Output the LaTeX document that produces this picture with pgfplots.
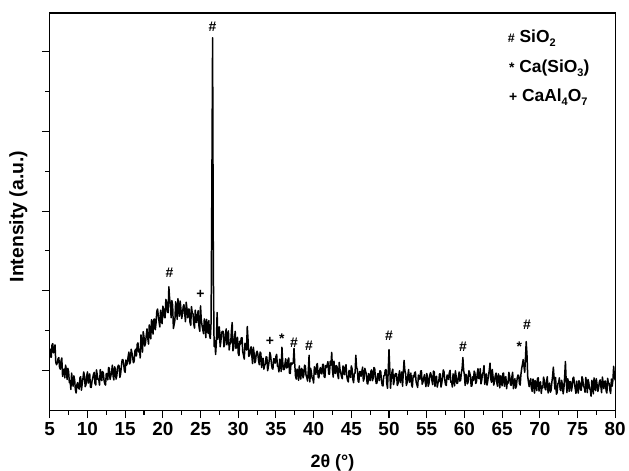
\documentclass[border=0pt]{standalone}
\usepackage{pgfplots}
\pgfplotsset{compat=1.18}
\usepackage{fontspec}
\setmainfont{Liberation Sans}
\begin{document}
\begin{tikzpicture}
\begin{axis}[
  scale only axis, width=568pt, height=399pt,
  xmin=5, xmax=80, ymin=0, ymax=9.975,
  xtick={5,10,...,80}, ytick={1,3,5,7,9}, yticklabels={},
  minor x tick num=1, minor y tick num=1,
  xtick pos=bottom, ytick pos=left,
  tick align=outside,
  major tick length=8pt, minor tick length=4.5pt,
  every tick/.style={black, line width=1.1pt},
  axis line style={black, line width=1.2pt},
  /pgf/number format/assume math mode=true,
  ticklabel style={font=\fontsize{19}{21}\selectfont\bfseries},
  xticklabel style={yshift=-1pt},
  xlabel={2θ (°)}, ylabel={Intensity (a.u.)},
  label style={font=\fontsize{18}{20}\selectfont\bfseries},
  xlabel style={at={(axis description cs:0.5,-0.11)}, anchor=north, inner sep=0pt},
  ylabel style={font=\fontsize{19.5}{21}\selectfont\bfseries, at={(axis description cs:-0.039,0.4875)}, anchor=south, inner sep=0pt},
  clip=false,
]
\path[draw=none] (rel axis cs:-0.088,-0.148) rectangle (rel axis cs:1.0194,1.0326);
\addplot[black, line width=1.5pt, mark=none, line join=round] coordinates {
(5.0,1.55) (5.1,1.34) (5.2,1.33) (5.3,1.64) (5.4,1.67) (5.5,1.44) (5.6,1.53) (5.7,1.64) (5.8,1.20) (5.9,1.14)
(6.0,1.19) (6.1,1.29) (6.2,1.32) (6.3,1.07) (6.4,1.03) (6.5,1.24) (6.6,1.31) (6.7,0.85) (6.8,1.00) (6.9,1.03)
(7.0,0.81) (7.1,1.13) (7.2,1.02) (7.3,0.77) (7.4,1.05) (7.5,0.97) (7.6,0.69) (7.7,0.74) (7.8,0.52) (7.9,0.93)
(8.0,0.74) (8.1,0.60) (8.2,0.86) (8.3,0.76) (8.4,0.51) (8.5,0.43) (8.6,0.64) (8.7,0.69) (8.8,0.57) (8.9,0.53)
(9.0,0.81) (9.1,0.84) (9.2,0.50) (9.3,0.65) (9.4,0.79) (9.5,0.96) (9.6,0.87) (9.7,0.59) (9.8,0.63) (9.9,0.85)
(10.0,0.96) (10.1,0.68) (10.2,0.83) (10.3,0.91) (10.4,0.58) (10.5,0.57) (10.6,0.72) (10.7,0.81) (10.8,0.90) (10.9,0.95)
(11.0,0.67) (11.1,0.63) (11.2,1.01) (11.3,0.89) (11.4,0.77) (11.5,0.78) (11.6,0.63) (11.7,1.02) (11.8,0.89) (11.9,0.74)
(12.0,0.97) (12.1,0.94) (12.2,0.75) (12.3,0.66) (12.4,0.63) (12.5,0.92) (12.6,0.91) (12.7,0.76) (12.8,1.07) (12.9,1.05)
(13.0,0.77) (13.1,0.86) (13.2,0.94) (13.3,1.13) (13.4,0.86) (13.5,0.76) (13.6,1.09) (13.7,1.03) (13.8,0.78) (13.9,0.87)
(14.0,1.07) (14.1,1.13) (14.2,1.11) (14.3,0.82) (14.4,0.91) (14.5,1.10) (14.6,1.26) (14.7,1.27) (14.8,1.17) (14.9,0.99)
(15.0,0.95) (15.1,1.26) (15.2,1.13) (15.3,1.19) (15.4,1.35) (15.5,1.46) (15.6,1.16) (15.7,1.21) (15.8,1.53) (15.9,1.44)
(16.0,1.32) (16.1,1.19) (16.2,1.23) (16.3,1.49) (16.4,1.53) (16.5,1.36) (16.6,1.65) (16.7,1.69) (16.8,1.46) (16.9,1.53)
(17.0,1.31) (17.1,1.89) (17.2,1.71) (17.3,1.46) (17.4,1.97) (17.5,1.84) (17.6,1.61) (17.7,1.68) (17.8,1.87) (17.9,2.04)
(18.0,1.81) (18.1,1.66) (18.2,2.14) (18.3,2.03) (18.4,1.79) (18.5,2.27) (18.6,2.20) (18.7,1.91) (18.8,2.27) (18.9,2.29)
(19.0,2.02) (19.1,2.19) (19.2,2.48) (19.3,2.54) (19.4,2.37) (19.5,2.22) (19.6,2.09) (19.7,2.51) (19.8,2.32) (19.9,2.17)
(20.0,2.61) (20.1,2.54) (20.2,2.33) (20.3,2.32) (20.4,2.78) (20.5,2.71) (20.6,2.47) (20.7,2.45) (20.8,3.10) (20.9,2.80)
(21.0,2.65) (21.1,2.32) (21.2,2.75) (21.3,2.64) (21.4,2.05) (21.5,2.15) (21.6,2.26) (21.7,2.72) (21.8,2.60) (21.9,2.28)
(22.0,2.80) (22.1,2.58) (22.2,2.36) (22.3,2.74) (22.4,2.54) (22.5,2.30) (22.6,2.40) (22.7,2.60) (22.8,2.65) (22.9,2.43)
(23.0,2.22) (23.1,2.71) (23.2,2.55) (23.3,2.32) (23.4,2.54) (23.5,2.54) (23.6,2.21) (23.7,2.13) (23.8,2.60) (23.9,2.44)
(24.0,2.42) (24.1,2.17) (24.2,2.06) (24.3,2.51) (24.4,2.21) (24.5,2.20) (24.6,2.42) (24.7,2.50) (24.8,2.09) (24.9,1.98)
(25.0,2.62) (25.1,2.27) (25.2,2.13) (25.3,2.02) (25.4,1.92) (25.5,2.29) (25.6,2.21) (25.7,1.82) (25.8,2.28) (25.9,2.10)
(26.0,1.93) (26.1,2.25) (26.2,1.87) (26.3,1.80) (26.4,2.20) (26.5,5.50) (26.6,9.35) (26.7,3.50) (26.8,1.60) (26.9,1.75)
(27.0,1.40) (27.1,1.70) (27.2,2.45) (27.3,1.78) (27.4,1.99) (27.5,2.09) (27.6,1.59) (27.7,1.73) (27.8,1.95) (27.9,1.98)
(28.0,1.98) (28.1,1.59) (28.2,1.65) (28.3,1.90) (28.4,2.04) (28.5,1.64) (28.6,1.86) (28.7,1.99) (28.8,1.51) (28.9,1.69)
(29.0,1.67) (29.1,2.00) (29.2,2.20) (29.3,1.49) (29.4,1.57) (29.5,1.79) (29.6,1.98) (29.7,1.55) (29.8,1.63) (29.9,1.83)
(30.0,1.43) (30.1,1.37) (30.2,1.73) (30.3,1.66) (30.4,1.81) (30.5,1.82) (30.6,1.47) (30.7,1.38) (30.8,1.28) (30.9,1.68)
(31.0,1.60) (31.1,1.51) (31.2,2.10) (31.3,1.78) (31.4,1.35) (31.5,1.38) (31.6,1.52) (31.7,1.59) (31.8,1.37) (31.9,1.17)
(32.0,1.58) (32.1,1.44) (32.2,1.19) (32.3,1.23) (32.4,1.43) (32.5,1.48) (32.6,1.41) (32.7,1.24) (32.8,1.14) (32.9,1.46)
(33.0,1.43) (33.1,1.07) (33.2,1.29) (33.3,1.30) (33.4,1.03) (33.5,1.12) (33.6,1.16) (33.7,1.34) (33.8,1.33) (33.9,0.99)
(34.0,1.09) (34.1,1.23) (34.2,1.45) (34.3,1.37) (34.4,1.17) (34.5,1.05) (34.6,1.03) (34.7,1.29) (34.8,1.28) (34.9,1.18)
(35.0,1.35) (35.1,1.40) (35.2,1.10) (35.3,1.10) (35.4,0.96) (35.5,1.28) (35.6,1.21) (35.7,0.97) (35.8,1.58) (35.9,1.21)
(36.0,1.02) (36.1,1.02) (36.2,1.16) (36.3,1.29) (36.4,1.06) (36.5,1.07) (36.6,1.26) (36.7,1.31) (36.8,0.93) (36.9,0.92)
(37.0,1.19) (37.1,1.15) (37.2,1.17) (37.3,1.20) (37.4,1.55) (37.5,1.15) (37.6,0.85) (37.7,0.78) (37.8,1.03) (37.9,0.99)
(38.0,0.75) (38.1,1.11) (38.2,0.88) (38.3,0.78) (38.4,1.05) (38.5,1.01) (38.6,0.81) (38.7,0.89) (38.8,1.13) (38.9,1.11)
(39.0,0.87) (39.1,0.82) (39.2,0.73) (39.3,1.01) (39.4,1.38) (39.5,0.71) (39.6,1.05) (39.7,0.96) (39.8,0.81) (39.9,0.79)
(40.0,0.68) (40.1,1.09) (40.2,0.96) (40.3,0.90) (40.4,1.13) (40.5,1.17) (40.6,0.83) (40.7,0.81) (40.8,1.00) (40.9,1.07)
(41.0,0.93) (41.1,0.91) (41.2,1.15) (41.3,1.15) (41.4,0.84) (41.5,0.82) (41.6,1.12) (41.7,1.07) (41.8,1.14) (41.9,1.22)
(42.0,0.91) (42.1,0.90) (42.2,1.22) (42.3,1.13) (42.4,1.45) (42.5,1.01) (42.6,0.83) (42.7,1.23) (42.8,0.95) (42.9,0.92)
(43.0,1.12) (43.1,1.10) (43.2,0.88) (43.3,0.79) (43.4,1.20) (43.5,1.03) (43.6,0.94) (43.7,0.84) (43.8,0.79) (43.9,1.11)
(44.0,1.03) (44.1,0.89) (44.2,1.09) (44.3,1.14) (44.4,0.85) (44.5,0.75) (44.6,0.71) (44.7,1.00) (44.8,0.97) (44.9,0.82)
(45.0,1.11) (45.1,1.04) (45.2,0.78) (45.3,0.69) (45.4,0.92) (45.5,0.93) (45.6,1.38) (45.7,1.06) (45.8,1.03) (45.9,0.73)
(46.0,0.70) (46.1,0.97) (46.2,0.97) (46.3,0.85) (46.4,0.97) (46.5,1.08) (46.6,0.73) (46.7,0.79) (46.8,1.05) (46.9,0.97)
(47.0,0.91) (47.1,0.67) (47.2,0.66) (47.3,0.92) (47.4,0.80) (47.5,0.74) (47.6,0.98) (47.7,1.01) (47.8,0.74) (47.9,0.80)
(48.0,1.07) (48.1,1.05) (48.2,0.82) (48.3,0.67) (48.4,0.68) (48.5,0.91) (48.6,0.92) (48.7,0.74) (48.8,0.99) (48.9,0.97)
(49.0,0.75) (49.1,0.62) (49.2,0.61) (49.3,0.86) (49.4,0.87) (49.5,1.00) (49.6,1.02) (49.7,0.67) (49.8,0.55) (49.9,1.00)
(50.0,1.52) (50.1,1.05) (50.2,0.55) (50.3,0.80) (50.4,0.96) (50.5,1.03) (50.6,0.64) (50.7,0.73) (50.8,0.90) (50.9,0.92)
(51.0,0.91) (51.1,0.62) (51.2,0.67) (51.3,0.87) (51.4,0.99) (51.5,0.69) (51.6,0.86) (51.7,0.96) (51.8,0.60) (51.9,0.95)
(52.0,1.25) (52.1,1.00) (52.2,0.92) (52.3,0.62) (52.4,0.69) (52.5,0.87) (52.6,1.02) (52.7,0.70) (52.8,0.77) (52.9,0.93)
(53.0,0.63) (53.1,0.58) (53.2,0.87) (53.3,0.82) (53.4,0.94) (53.5,0.96) (53.6,0.70) (53.7,0.64) (53.8,0.57) (53.9,0.88)
(54.0,0.83) (54.1,0.77) (54.2,0.98) (54.3,0.99) (54.4,0.65) (54.5,0.70) (54.6,0.80) (54.7,0.89) (54.8,0.71) (54.9,0.59)
(55.0,0.92) (55.1,0.84) (55.2,0.60) (55.3,0.66) (55.4,0.87) (55.5,0.94) (55.6,0.88) (55.7,0.73) (55.8,0.64) (55.9,0.98)
(56.0,0.96) (56.1,0.60) (56.2,0.83) (56.3,0.85) (56.4,0.58) (56.5,0.68) (56.6,0.72) (56.7,0.91) (56.8,0.91) (56.9,0.58)
(57.0,0.68) (57.1,0.82) (57.2,1.01) (57.3,0.96) (57.4,0.76) (57.5,0.64) (57.6,0.62) (57.7,0.88) (57.8,0.87) (57.9,0.77)
(58.0,0.94) (58.1,1.00) (58.2,0.70) (58.3,0.72) (58.4,0.58) (58.5,0.91) (58.6,0.84) (58.7,0.61) (58.8,0.99) (58.9,0.86)
(59.0,0.67) (59.1,0.68) (59.2,0.82) (59.3,0.96) (59.4,0.73) (59.5,0.75) (59.6,0.94) (59.7,1.05) (59.8,1.32) (59.9,1.00)
(60.0,0.89) (60.1,0.62) (60.2,0.90) (60.3,0.87) (60.4,0.66) (60.5,0.71) (60.6,0.99) (60.7,0.94) (60.8,0.86) (60.9,0.60)
(61.0,0.61) (61.1,0.84) (61.2,0.75) (61.3,0.98) (61.4,0.93) (61.5,0.67) (61.6,0.71) (61.7,0.91) (61.8,1.04) (61.9,0.80)
(62.0,0.79) (62.1,1.04) (62.2,0.66) (62.3,0.75) (62.4,0.91) (62.5,0.95) (62.6,1.12) (62.7,0.65) (62.8,0.75) (62.9,0.91)
(63.0,0.63) (63.1,0.73) (63.2,0.88) (63.3,1.00) (63.4,1.18) (63.5,0.78) (63.6,0.70) (63.7,1.02) (63.8,0.84) (63.9,0.63)
(64.0,0.73) (64.1,0.87) (64.2,0.93) (64.3,0.69) (64.4,0.60) (64.5,0.91) (64.6,0.86) (64.7,0.56) (64.8,0.86) (64.9,0.79)
(65.0,0.61) (65.1,0.92) (65.2,0.93) (65.3,0.60) (65.4,0.80) (65.5,0.84) (65.6,0.54) (65.7,0.72) (65.8,0.68) (65.9,0.95)
(66.0,0.86) (66.1,0.66) (66.2,0.62) (66.3,0.84) (66.4,0.95) (66.5,0.54) (66.6,0.70) (66.7,0.79) (66.8,0.55) (66.9,0.60)
(67.0,0.80) (67.1,0.88) (67.2,0.87) (67.3,0.67) (67.4,0.63) (67.5,0.90) (67.6,1.05) (67.7,1.15) (67.8,1.27) (67.9,1.10)
(68.0,0.95) (68.1,1.30) (68.2,1.72) (68.3,1.40) (68.4,0.85) (68.5,0.70) (68.6,0.59) (68.7,0.73) (68.8,0.79) (68.9,0.55)
(69.0,0.47) (69.1,0.78) (69.2,0.73) (69.3,0.43) (69.4,0.74) (69.5,0.67) (69.6,0.49) (69.7,0.80) (69.8,0.81) (69.9,0.48)
(70.0,0.67) (70.1,0.71) (70.2,0.42) (70.3,0.60) (70.4,0.56) (70.5,0.83) (70.6,0.74) (70.7,0.54) (70.8,0.51) (70.9,0.73)
(71.0,0.84) (71.1,0.43) (71.2,0.59) (71.3,0.68) (71.4,0.45) (71.5,0.50) (71.6,0.70) (71.7,0.85) (71.8,1.08) (71.9,0.80)
(72.0,0.53) (72.1,0.82) (72.2,0.40) (72.3,0.44) (72.4,0.66) (72.5,0.69) (72.6,0.81) (72.7,0.52) (72.8,0.49) (72.9,0.75)
(73.0,0.64) (73.1,0.41) (73.2,0.55) (73.3,0.85) (73.4,1.22) (73.5,0.75) (73.6,0.44) (73.7,0.79) (73.8,0.71) (73.9,0.47)
(74.0,0.72) (74.1,0.71) (74.2,0.48) (74.3,0.60) (74.4,0.80) (74.5,0.83) (74.6,0.67) (74.7,0.54) (74.8,0.42) (74.9,0.73)
(75.0,0.56) (75.1,0.43) (75.2,0.74) (75.3,0.68) (75.4,0.51) (75.5,0.50) (75.6,0.84) (75.7,0.78) (75.8,0.59) (75.9,0.57)
(76.0,0.45) (76.1,0.82) (76.2,0.70) (76.3,0.44) (76.4,0.77) (76.5,0.69) (76.6,0.53) (76.7,0.52) (76.8,0.35) (76.9,0.75)
(77.0,0.66) (77.1,0.41) (77.2,0.81) (77.3,0.65) (77.4,0.49) (77.5,0.79) (77.6,0.64) (77.7,0.47) (77.8,0.55) (77.9,0.71)
(78.0,0.76) (78.1,0.60) (78.2,0.44) (78.3,0.83) (78.4,0.71) (78.5,0.54) (78.6,0.72) (78.7,0.73) (78.8,0.48) (78.9,0.43)
(79.0,0.80) (79.1,0.68) (79.2,0.67) (79.3,0.50) (79.4,0.42) (79.5,0.78) (79.6,0.60) (79.7,0.75) (79.8,1.10) (79.9,0.85)
(80.0,0.75)
};
% peak markers
\begin{scope}[every node/.style={font=\fontsize{14}{15}\selectfont\bfseries, inner sep=0pt}]
\node at (axis cs:20.9,3.45) {\#};
\node at (axis cs:25.0,2.90) {+};
\node at (axis cs:26.6,9.62) {\#};
\node at (axis cs:34.2,1.72) {+};
\node at (axis cs:35.8,1.80) {*};
\node at (axis cs:37.4,1.70) {\#};
\node at (axis cs:39.4,1.62) {\#};
\node at (axis cs:50.0,1.87) {\#};
\node at (axis cs:59.8,1.60) {\#};
\node at (axis cs:67.3,1.60) {*};
\node at (axis cs:68.3,2.15) {\#};
\end{scope}
% legend text
\begin{scope}[every node/.style={font=\fontsize{17.5}{19}\selectfont\bfseries, inner sep=0pt, anchor=base west}]
\node at (axis cs:65.74,9.225) {{\fontsize{12.5}{12}\selectfont\#} SiO\raisebox{-0.45ex}{\fontsize{11}{12}\selectfont 2}};
\node at (axis cs:65.9,8.475) {{\fontsize{14}{12}\selectfont*} Ca(SiO\raisebox{-0.45ex}{\fontsize{11}{12}\selectfont 3})};
\node at (axis cs:65.9,7.75) {{\fontsize{14}{12}\selectfont+} CaAl\raisebox{-0.45ex}{\fontsize{11}{12}\selectfont 4}O\raisebox{-0.45ex}{\fontsize{11}{12}\selectfont 7}};
\end{scope}
\end{axis}
\end{tikzpicture}
\end{document}
